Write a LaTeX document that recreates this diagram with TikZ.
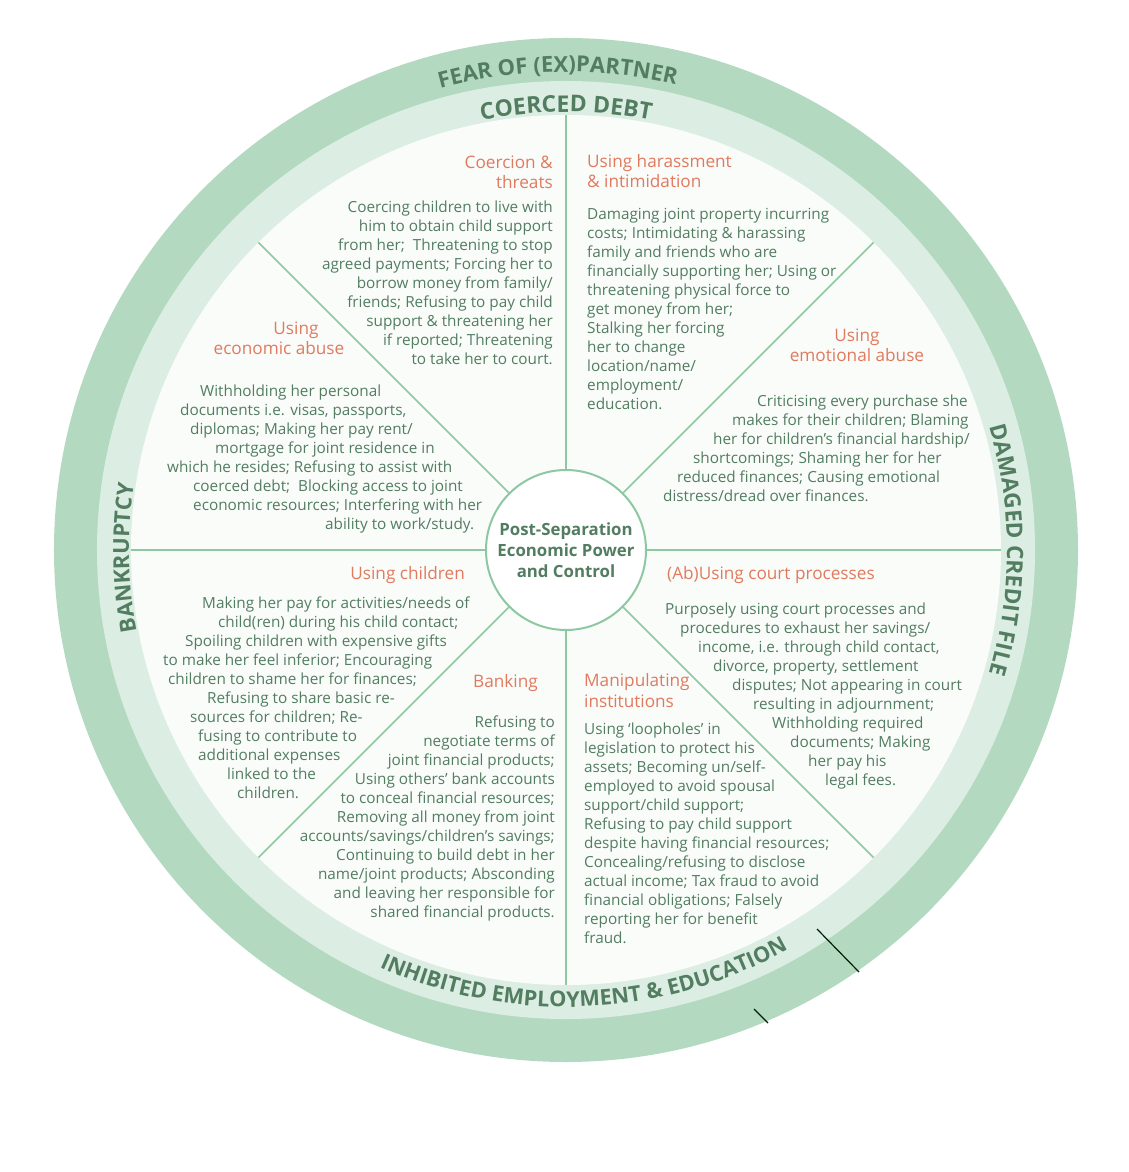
\documentclass[tikz,border=0pt]{standalone}
\usepackage{fontspec}
\setmainfont{Open Sans}
\usepackage{tikz}
\usepackage{xcolor}
\usetikzlibrary{decorations.text}

\definecolor{ringdark}{HTML}{B4D9C1}
\definecolor{ringlight}{HTML}{DCEEE3}
\definecolor{wheelbg}{HTML}{FAFCFA}
\definecolor{spokegreen}{HTML}{8DC8A2}
\definecolor{textgreen}{HTML}{527D61}
\definecolor{headred}{HTML}{E07A5F}

\begin{document}
\begin{tikzpicture}[x=1pt,y=1pt]
\useasboundingbox (-566,-622) rectangle (563,550);

\fill[ringdark] (0,0) circle (512);
\fill[ringlight] (0,0) circle (469);
\fill[wheelbg] (0,0) circle (435);

\path[decorate, decoration={text along path, text align=center, text color=textgreen,
  text={|\fontsize{22}{22}\selectfont\bfseries|FEAR OF (EX)PARTNER}}]
  (151:478) arc[start angle=151, end angle=31, radius=478];
\path[decorate, decoration={text along path, text align=center, text color=textgreen,
  text={|\fontsize{23}{23}\selectfont\bfseries|COERCED DEBT}}]
  (135:438) arc[start angle=135, end angle=45, radius=438];
\path[decorate, decoration={text along path, text align=center, text color=textgreen,
  text={|\fontsize{22}{22}\selectfont\bfseries|BANKRUPTCY}}]
  (221:437) arc[start angle=221, end angle=141, radius=437];
\path[decorate, decoration={text along path, text align=center, text color=textgreen,
  text={|\fontsize{22.5}{22.5}\selectfont\bfseries|DAMAGED CREDIT FILE}}]
  (40:441) arc[start angle=40, end angle=-40, radius=441];
\path[decorate, decoration={text along path, text align=center, text color=textgreen,
  text={|\fontsize{21.7}{21.7}\selectfont\bfseries|INHIBITED EMPLOYMENT {\&} EDUCATION}}]
  (222:457) arc[start angle=222, end angle=323, radius=457];

\node[circle, draw=spokegreen, line width=2pt, fill=white, minimum size=160pt, inner sep=0pt,
  align=center, text=textgreen, font=\fontsize{16.8}{21}\selectfont\bfseries]
  (hub) at (0,0) {Post-Separation\\Economic Power\\and Control};

\foreach \a in {0,45,...,315}
  \draw[spokegreen, line width=1.5pt] (hub.\a) -- (\a:435);

\coordinate (tick1a) at (251,-379);
\coordinate (tick1b) at (293,-422);
\coordinate (tick2a) at (188,-459);
\coordinate (tick2b) at (202,-473);
\draw[black!70!green!40!black, line width=1.2pt] (tick1a) -- (tick1b);
\draw[black!70!green!40!black, line width=1.2pt] (tick2a) -- (tick2b);

\begin{scope}[every node/.style={text=headred, inner sep=0pt, font=\fontsize{17.2}{20.5}\selectfont}]
\node[anchor=base east, align=right] (threatshead) at (-13,361) {Coercion \&\\threats};
\node[anchor=base west, align=left] (harasshead) at (21,362) {Using harassment\\\& intimidation};
\node[anchor=base, align=center] (econhead) at (-287,195) {\hspace*{34pt}Using\\economic abuse};
\node[anchor=base, align=center] (emohead) at (291,188) {Using\\emotional abuse};
\node[anchor=base east, align=right] (childhead) at (-101,-30) {Using children};
\node[anchor=base west, align=left] (courthead) at (101,-30) {(Ab)Using court processes};
\node[anchor=base east, align=right] (bankhead) at (-28,-137) {Banking};
\node[anchor=base west, align=left] (insthead) at (18,-157) {Manipulating\\institutions};
\end{scope}

\begin{scope}[every node/.style={text=textgreen, inner sep=0pt, font=\fontsize{15.3}{19}\selectfont}]
\node[anchor=base east, align=right] (threatstext) at (-13,185) {Coercing children to live with\\
him to obtain child support\\
from her;\ \ Threatening to stop\\
agreed payments; Forcing her to\\
borrow money from family/\\
friends; Refusing to pay child\\
support \& threatening her\\
if reported; Threatening\\
to take her to court.};
\node[anchor=base west, align=left] (harasstext) at (21,140) {Damaging joint property incurring\\
costs; Intimidating \& harassing\\
family and friends who are\\
financially supporting her; Using or\\
threatening physical force to\\
get money from her;\\
Stalking her forcing\\
her to change\\
location/name/\\
employment/\\
education.};
\node[anchor=base west, align=left] (econtext) at (-399,20) {\hspace*{33pt}Withholding her personal\\
\hspace*{13pt}documents i.e. visas, passports,\\
\hspace*{23pt}diplomas; Making her pay rent/\\
\hspace*{48pt}mortgage for joint residence in\\
which he resides; Refusing to assist with\\
\hspace*{26pt}coerced debt;\ \ Blocking access to joint\\
\hspace*{26pt}economic resources; Interfering with her\\
\hspace*{158pt}ability to work/study.};
\node[anchor=base west, align=left] (emotext) at (97,48) {\hspace*{94pt}Criticising every purchase she\\
\hspace*{69pt}makes for their children; Blaming\\
\hspace*{50pt}her for children’s financial hardship/\\
\hspace*{30pt}shortcomings; Shaming her for her\\
\hspace*{14pt}reduced finances; Causing emotional\\
distress/dread over finances.};
\node[anchor=base west, align=left] (childtext) at (-403,-248) {\hspace*{39pt}Making her pay for activities/needs of\\
\hspace*{55pt}child(ren) during his child contact;\\
\hspace*{22pt}Spoiling children with expensive gifts\\
to make her feel inferior; Encouraging\\
\hspace*{5pt}children to shame her for finances;\\
\hspace*{44pt}Refusing to share basic re-\\
\hspace*{27pt}sources for children; Re-\\
\hspace*{35pt}fusing to contribute to\\
\hspace*{35pt}additional expenses\\
\hspace*{64pt}linked to the\\
\hspace*{74pt}children.};
\node[anchor=base west, align=left] (courttext) at (99,-235) {Purposely using court processes and\\
\hspace*{15pt}procedures to exhaust her savings/\\
\hspace*{33pt}income, i.e. through child contact,\\
\hspace*{48pt}divorce, property, settlement\\
\hspace*{67pt}disputes; Not appearing in court\\
\hspace*{88pt}resulting in adjournment;\\
\hspace*{107pt}Withholding required\\
\hspace*{125pt}documents; Making\\
\hspace*{143pt}her pay his\\
\hspace*{160pt}legal fees.};
\node[anchor=base east, align=right] (banktext) at (-11,-367) {Refusing to\\
negotiate terms of\\
joint financial products;\\
Using others’ bank accounts\\
to conceal financial resources;\\
Removing all money from joint\\
accounts/savings/children’s savings;\\
Continuing to build debt in her\\
name/joint products; Absconding\\
and leaving her responsible for\\
shared financial products.};
\node[anchor=base west, align=left] (insttext) at (18,-393) {Using ‘loopholes’ in\\
legislation to protect his\\
assets; Becoming un/self-\\
employed to avoid spousal\\
support/child support;\\
Refusing to pay child support\\
despite having financial resources;\\
Concealing/refusing to disclose\\
actual income; Tax fraud to avoid\\
financial obligations; Falsely\\
reporting her for benefit\\
fraud.};
\end{scope}

\end{tikzpicture}
\end{document}
